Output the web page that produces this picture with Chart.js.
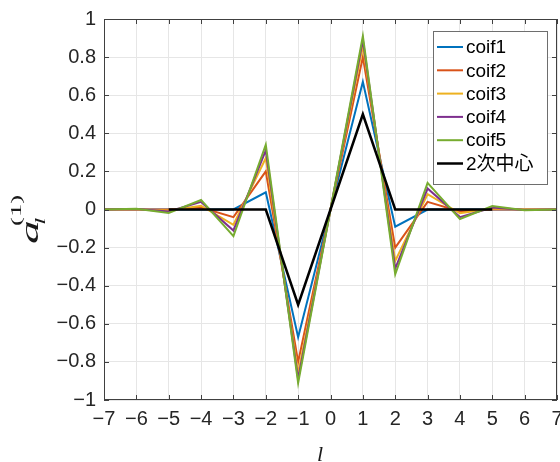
<!DOCTYPE html>
<html>
<head>
<meta charset="utf-8">
<script src="https://cdn.jsdelivr.net/npm/chart.js@4.4.1/dist/chart.umd.min.js"></script>
<style>
  html, body { margin: 0; padding: 0; background: #fff; }
  #wrap { width: 560px; height: 462px; }
</style>
</head>
<body>
<div id="wrap"><canvas id="chart" width="560" height="462"></canvas></div>
<script>
// Données
const lValues = [-7, -6, -5, -4, -3, -2, -1, 0, 1, 2, 3, 4, 5, 6, 7];
const coif1 = [0, 0, 0, 0, 0, 0.09, -0.67, 0, 0.67, -0.09, 0, 0, 0, 0, 0];
const coif2 = [0, 0, 0, 0.01, -0.04, 0.2, -0.8, 0, 0.8, -0.2, 0.04, -0.01, 0, 0, 0];
const coif3 = [0, 0, -0.005, 0.02, -0.08, 0.27, -0.86, 0, 0.86, -0.27, 0.08, -0.02, 0.005, 0, 0];
const coif4 = [0, 0.002, -0.01, 0.04, -0.11, 0.31, -0.89, 0, 0.89, -0.31, 0.11, -0.04, 0.01, -0.002, 0];
const coif5 = [0, 0.004, -0.018, 0.05, -0.14, 0.34, -0.91, 0, 0.91, -0.34, 0.14, -0.05, 0.018, -0.004, 0];
const center2 = [null, null, 0, 0, 0, 0, -0.5, 0, 0.5, 0, 0, 0, 0, null, null];

const seriesLabels = ['coif1', 'coif2', 'coif3', 'coif4', 'coif5', '2次中心'];
const seriesColors = ['#0072BD', '#D95319', '#EDB120', '#7E2F8E', '#77AC30', '#000000'];
const seriesValues = [coif1, coif2, coif3, coif4, coif5, center2];

const xTickValues = [-7, -6, -5, -4, -3, -2, -1, 0, 1, 2, 3, 4, 5, 6, 7];
const yTickValues = [-1, -0.8, -0.6, -0.4, -0.2, 0, 0.2, 0.4, 0.6, 0.8, 1];

const tickFont = { family: '"Liberation Sans", Arial, sans-serif', size: 20 };
const axisColor = '#404040';

function fmt(v) {
  const s = String(Math.round(v * 10) / 10);
  return s.replace('-', '\u2212');
}

// Boîte + graduations intérieures (style MATLAB)
const boxPlugin = {
  id: 'box',
  afterDatasetsDraw(chart) {
    const { ctx, chartArea: a, scales } = chart;
    ctx.save();
    ctx.strokeStyle = axisColor;
    ctx.lineWidth = 1;
    ctx.strokeRect(a.left + 0.5, a.top + 0.5, a.right - a.left - 1, a.bottom - a.top - 1);
    const tl = 5;
    ctx.beginPath();
    xTickValues.forEach(v => {
      const x = Math.round(scales.x.getPixelForValue(v)) + 0.5;
      ctx.moveTo(x, a.bottom); ctx.lineTo(x, a.bottom - tl);
      ctx.moveTo(x, a.top); ctx.lineTo(x, a.top + tl);
    });
    yTickValues.forEach(v => {
      const y = Math.round(scales.y.getPixelForValue(v)) + 0.5;
      ctx.moveTo(a.left, y); ctx.lineTo(a.left + tl, y);
      ctx.moveTo(a.right, y); ctx.lineTo(a.right - tl, y);
    });
    ctx.stroke();
    ctx.restore();
  }
};

// Légende à l'intérieur du tracé, en haut à droite
const legendPlugin = {
  id: 'innerLegend',
  afterDraw(chart) {
    const { ctx } = chart;
    const x0 = 433, y0 = 31, w = 114, h = 153;
    const rowH = 23.3, firstY = 47;
    ctx.save();
    ctx.fillStyle = '#fff';
    ctx.fillRect(x0, y0, w, h);
    ctx.strokeStyle = '#6e6e6e';
    ctx.lineWidth = 1;
    ctx.strokeRect(x0 + 0.5, y0 + 0.5, w, h);
    ctx.font = '19px "Liberation Sans", Arial, "Noto Sans CJK JP", sans-serif';
    ctx.textBaseline = 'middle';
    chart.data.datasets.forEach((ds, i) => {
      const y = firstY + i * rowH;
      ctx.strokeStyle = ds.borderColor;
      ctx.lineWidth = ds.borderWidth;
      ctx.beginPath();
      ctx.moveTo(437, y); ctx.lineTo(463, y);
      ctx.stroke();
      ctx.fillStyle = '#000';
      ctx.fillText(ds.label, 466, y + 1);
    });
    ctx.restore();
  }
};

// Titres des axes : a_l^(1) et l
const axisTitlePlugin = {
  id: 'axisTitles',
  afterDraw(chart) {
    const { ctx } = chart;
    ctx.save();
    ctx.fillStyle = '#1a1a1a';
    ctx.font = 'italic 22px "Liberation Serif", "DejaVu Serif", serif';
    ctx.textAlign = 'center';
    ctx.textBaseline = 'alphabetic';
    ctx.fillText('l', 320, 461);

    // étiquette verticale, étirée dans le sens du texte comme sur l'original
    ctx.translate(38, 244);
    ctx.rotate(-Math.PI / 2);
    ctx.scale(1.9, 1);
    ctx.textAlign = 'left';
    ctx.font = 'italic 25px "Liberation Serif", "DejaVu Serif", serif';
    ctx.fillText('a', 0, 0);
    ctx.font = 'italic 14px "Liberation Serif", "DejaVu Serif", serif';
    ctx.fillText('l', 10, 7);
    ctx.font = '14px "Liberation Serif", "DejaVu Serif", serif';
    ctx.fillText('(1)', 9.5, -17);
    ctx.restore();
  }
};

const datasets = seriesValues.map((vals, i) => ({
  label: seriesLabels[i],
  data: lValues.map((l, k) => ({ x: l, y: vals[k] })),
  borderColor: seriesColors[i],
  backgroundColor: seriesColors[i],
  borderWidth: i === 5 ? 2.5 : 2,
  pointRadius: 0,
  tension: 0,
  spanGaps: false,
  order: seriesValues.length - i
}));

new Chart(document.getElementById('chart'), {
  type: 'line',
  data: { datasets },
  options: {
    responsive: false,
    animation: false,
    devicePixelRatio: 1,
    layout: { padding: { left: 0, right: 3, top: 19, bottom: 0 } },
    plugins: { legend: { display: false }, tooltip: { enabled: false } },
    scales: {
      x: {
        type: 'linear',
        min: -7, max: 7,
        afterBuildTicks: s => { s.ticks = xTickValues.map(v => ({ value: v })); },
        afterFit: s => { s.height = 62; s.paddingLeft = 0; s.paddingRight = 0; },
        grid: { color: '#e6e6e6', drawTicks: false },
        border: { display: false },
        ticks: { font: tickFont, color: '#262626', padding: 7, maxRotation: 0, autoSkip: false, callback: v => fmt(v) }
      },
      y: {
        type: 'linear',
        min: -1, max: 1,
        afterBuildTicks: s => { s.ticks = yTickValues.map(v => ({ value: v })); },
        afterFit: s => { s.width = 104; s.paddingTop = 0; s.paddingBottom = 0; },
        grid: { color: '#e6e6e6', drawTicks: false },
        border: { display: false },
        ticks: { font: tickFont, color: '#262626', padding: 8, callback: v => fmt(v) }
      }
    }
  },
  plugins: [boxPlugin, legendPlugin, axisTitlePlugin]
});
</script>
</body>
</html>
